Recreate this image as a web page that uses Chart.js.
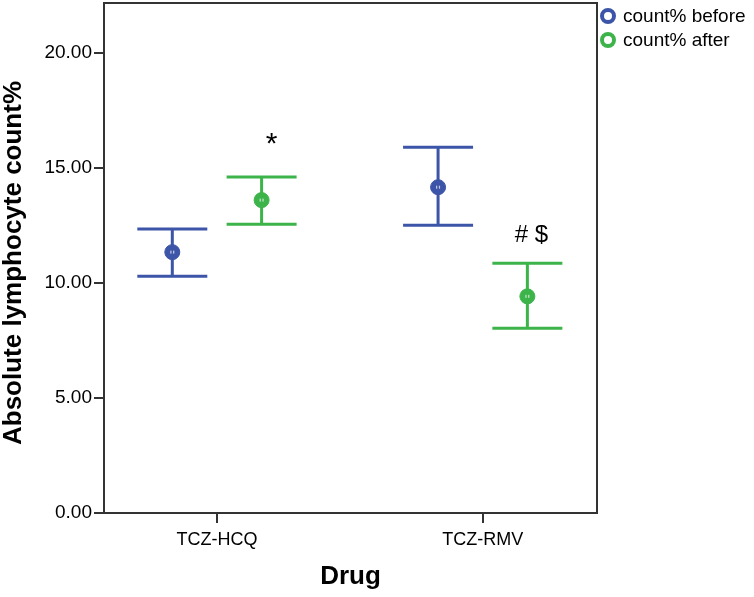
<!DOCTYPE html>
<html><head><meta charset="utf-8">
<script src="https://cdn.jsdelivr.net/npm/chart.js@4/dist/chart.umd.min.js"></script>
<style>html,body{margin:0;padding:0;background:#fff}canvas{display:block}</style>
</head><body>
<canvas id="c" width="754" height="597"></canvas>
<script>
// ---- data ----
const categories = ['TCZ-HCQ', 'TCZ-RMV'];
const seriesNames = ['count% before', 'count% after'];
const meanBefore = [11.33, 14.15];
const lowBefore  = [10.28, 12.50];
const highBefore = [12.33, 15.89];
const meanAfter  = [13.59, 9.41];
const lowAfter   = [12.54, 8.02];
const highAfter  = [14.59, 10.85];
const yTicks = [0, 5, 10, 15, 20];
const annotations = ['*', '# $'];      // marks above the "after" series
const annotY = [15.62, 11.76];
const xTitle = 'Drug';
const yTitle = 'Absolute lymphocyte count%';

// ---- styles ----
const BLUE = '#3D55A8', GREEN = '#3CB44A';
const FONT = 'Arial, "Liberation Sans", sans-serif';
const groupOffset = [-0.168, 0.168];
const annotFontSize = [30, 24];
const annotShift = [10, 4];
const PLOT_TOP = 3;

const series = [
  {name: seriesNames[0], mean: meanBefore, low: lowBefore, high: highBefore, color: BLUE},
  {name: seriesNames[1], mean: meanAfter,  low: lowAfter,  high: highAfter,  color: GREEN}
];

const errPlugin = {
  id: 'errbars',
  afterLayout(chart) {
    const y = chart.scales.y;
    y.top = PLOT_TOP;
    y.height = y.bottom - PLOT_TOP;
    y.configure();
    chart.chartArea.top = PLOT_TOP;
    chart.chartArea.height = chart.chartArea.bottom - PLOT_TOP;
  },
  beforeDatasetsDraw(chart) {
    const {ctx, scales: {x, y}} = chart;
    ctx.save();
    series.forEach((s, si) => {
      ctx.strokeStyle = s.color;
      ctx.lineWidth = 3;
      categories.forEach((c, i) => {
        const px = x.getPixelForValue(i + 1 + groupOffset[si]);
        const yl = y.getPixelForValue(s.low[i]);
        const yh = y.getPixelForValue(s.high[i]);
        ctx.beginPath();
        ctx.moveTo(px, yl); ctx.lineTo(px, yh);
        ctx.moveTo(px - 35, yl); ctx.lineTo(px + 35, yl);
        ctx.moveTo(px - 35, yh); ctx.lineTo(px + 35, yh);
        ctx.stroke();
      });
    });
    ctx.restore();
  },
  afterDraw(chart) {
    const {ctx, chartArea: a, scales: {x, y}} = chart;
    ctx.save();
    // small white centers in markers
    series.forEach((s, si) => {
      categories.forEach((c, i) => {
        const px = x.getPixelForValue(i + 1 + groupOffset[si]);
        const py = y.getPixelForValue(s.mean[i]);
        ctx.fillStyle = 'rgba(255,255,255,0.7)';
        ctx.fillRect(px - 2, py - 1.5, 1.2, 3);
        ctx.fillRect(px + 0.8, py - 1.5, 1.2, 3);
      });
    });
    // frame top / right
    ctx.strokeStyle = '#333';
    ctx.lineWidth = 2;
    ctx.beginPath();
    ctx.moveTo(a.left, a.top); ctx.lineTo(a.right, a.top); ctx.lineTo(a.right, a.bottom);
    ctx.stroke();
    // annotations
    ctx.fillStyle = '#000';
    ctx.textAlign = 'center';
    ctx.textBaseline = 'alphabetic';
    annotations.forEach((t, i) => {
      ctx.font = annotFontSize[i] + 'px ' + FONT;
      ctx.fillText(t, x.getPixelForValue(i + 1 + groupOffset[1]) + annotShift[i], y.getPixelForValue(annotY[i]));
    });
    // legend
    ctx.font = '19px ' + FONT;
    ctx.textAlign = 'left';
    ctx.textBaseline = 'middle';
    series.forEach((s, i) => {
      const cy = 16 + i * 24;
      ctx.strokeStyle = s.color;
      ctx.lineWidth = 4;
      ctx.beginPath();
      ctx.arc(a.right + 11, cy, 6, 0, Math.PI * 2);
      ctx.stroke();
      ctx.fillStyle = '#000';
      ctx.fillText(s.name, a.right + 26, cy + 1);
    });
    // axis titles
    ctx.font = 'bold 26px ' + FONT;
    ctx.textAlign = 'center';
    ctx.textBaseline = 'middle';
    ctx.fillText(xTitle, (a.left + a.right) / 2, 577);
    ctx.translate(14, (a.top + a.bottom) / 2 + 5);
    ctx.rotate(-Math.PI / 2);
    ctx.fillText(yTitle, 0, 0);
    ctx.restore();
  }
};

new Chart(document.getElementById('c'), {
  type: 'scatter',
  data: {
    datasets: series.map((s, si) => ({
      label: s.name,
      data: categories.map((c, i) => ({x: i + 1 + groupOffset[si], y: s.mean[i]})),
      backgroundColor: s.color,
      borderColor: s.color,
      borderWidth: 1,
      pointRadius: 7.5,
      pointHoverRadius: 7.5
    }))
  },
  options: {
    responsive: false,
    animation: false,
    devicePixelRatio: 1,
    layout: {autoPadding: false, padding: {left: 0, top: 3, right: 157, bottom: 0}},
    plugins: {legend: {display: false}, tooltip: {enabled: false}},
    scales: {
      x: {
        type: 'linear', min: 0.575, max: 2.43,
        afterBuildTicks: s => { s.ticks = categories.map((c, i) => ({value: i + 1})); },
        afterFit: s => { s.height = 84; },
        ticks: {
          callback: v => categories[Math.round(v) - 1],
          font: {family: FONT, size: 18}, color: '#000', padding: 6,
          maxRotation: 0, autoSkip: false
        },
        grid: {drawOnChartArea: false, drawTicks: true, tickLength: 10, color: '#333', lineWidth: 2},
        border: {display: true, color: '#333', width: 2}
      },
      y: {
        min: 0, max: 22.15,
        afterBuildTicks: s => { s.ticks = yTicks.map(v => ({value: v})); },
        afterFit: s => { s.width = 104; },
        ticks: {
          callback: v => Number(v).toFixed(2),
          font: {family: FONT, size: 19}, color: '#000', padding: 2
        },
        grid: {drawOnChartArea: false, drawTicks: true, tickLength: 10, color: '#333', lineWidth: 2},
        border: {display: true, color: '#333', width: 2}
      }
    }
  },
  plugins: [errPlugin]
});
</script>
</body></html>
